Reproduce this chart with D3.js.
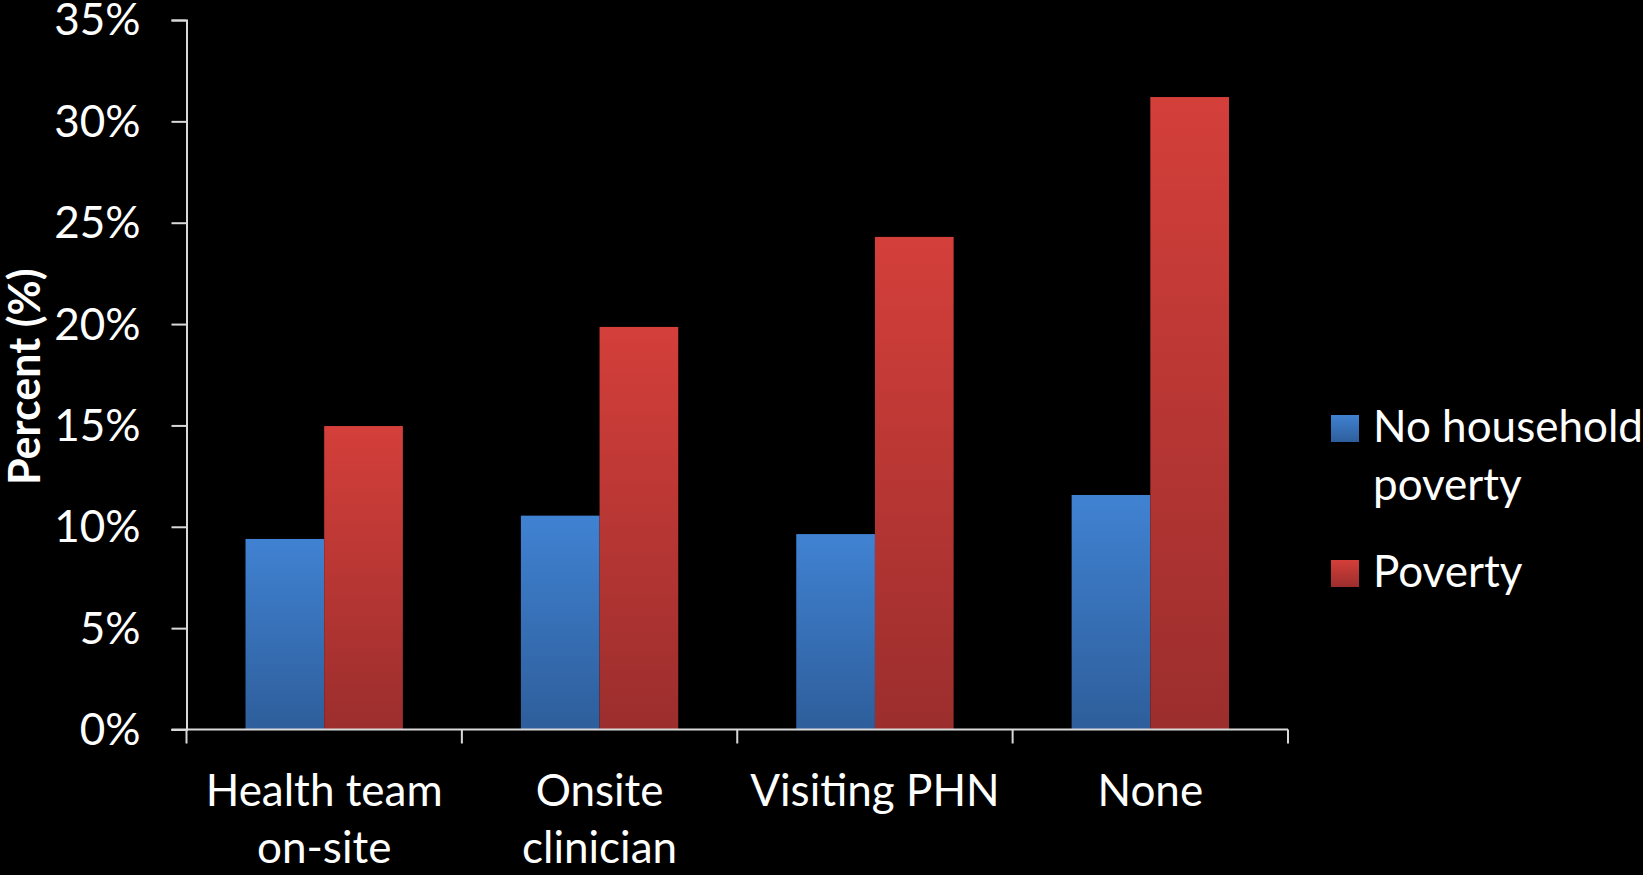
<!DOCTYPE html>
<html>
<head>
<meta charset="utf-8">
<script src="https://cdn.jsdelivr.net/npm/d3@7"></script>
<style>
  html, body { margin: 0; padding: 0; background: #000; }
  svg { display: block; }
</style>
</head>
<body>
<div id="chart"></div>
<script>
// data
const categories = [["Health team", "on-site"], ["Onsite", "clinician"], ["Visiting PHN"], ["None"]];
const seriesNames = [["No household", "poverty"], ["Poverty"]];
const noPoverty = [9.4, 10.55, 9.64, 11.57];
const poverty = [14.97, 19.86, 24.3, 31.2];
const yTicks = [0, 5, 10, 15, 20, 25, 30, 35];

const width = 1643, height = 875;
const margin = {top: 20, left: 186.5, right: 355, bottom: 145.5};
const font = "Lato, 'Open Sans', sans-serif";
const axisColor = "#d9d9d9";

const palette = [
  {top: "#4082d2", bottom: "#2e5e9b"},
  {top: "#d43f3a", bottom: "#9b2e2d"}
];

const svg = d3.select("#chart").append("svg")
  .attr("width", width)
  .attr("height", height)
  .style("background", "#000");

const defs = svg.append("defs");
palette.forEach((p, i) => {
  const g = defs.append("linearGradient")
    .attr("id", "grad" + i)
    .attr("x1", 0).attr("y1", 0).attr("x2", 0).attr("y2", 1);
  g.append("stop").attr("offset", "0%").attr("stop-color", p.top);
  g.append("stop").attr("offset", "100%").attr("stop-color", p.bottom);
});

const keys = categories.map(c => c.join(" "));
const data = keys.map((k, i) => ({key: k, values: [noPoverty[i], poverty[i]]}));

const x0 = d3.scaleBand()
  .domain(keys)
  .range([margin.left, width - margin.right])
  .paddingInner(0).paddingOuter(0);

const x1 = d3.scaleBand()
  .domain([0, 1])
  .range([0, x0.bandwidth()])
  .paddingInner(0).paddingOuter(0.75);

const y = d3.scaleLinear()
  .domain([0, 35])
  .range([height - margin.bottom, margin.top]);

// bars
const groups = svg.append("g").selectAll("g")
  .data(data).enter()
  .append("g")
  .attr("transform", d => "translate(" + x0(d.key) + ",0)");

groups.selectAll("rect")
  .data(d => d.values)
  .enter().append("rect")
  .attr("x", (d, i) => x1(i))
  .attr("y", d => y(d))
  .attr("width", x1.bandwidth())
  .attr("height", d => y(0) - y(d))
  .attr("fill", (d, i) => "url(#grad" + i + ")");

// y axis
const yAxis = svg.append("g")
  .attr("transform", "translate(" + margin.left + ",0)")
  .call(d3.axisLeft(y).tickValues(yTicks).tickSize(15).tickPadding(31)
    .tickFormat(d => d + "%"));
yAxis.select(".domain").attr("stroke", axisColor).attr("stroke-width", 2);
yAxis.selectAll(".tick line").attr("stroke", axisColor).attr("stroke-width", 2);
yAxis.selectAll("text")
  .attr("fill", "#fff")
  .attr("font-family", font)
  .attr("font-size", 44)
  .attr("dy", "0.34em");

// x axis line and boundary ticks
const xAxis = svg.append("g");
xAxis.append("line")
  .attr("x1", margin.left - 15).attr("x2", x0.range()[1])
  .attr("y1", y(0)).attr("y2", y(0))
  .attr("stroke", axisColor).attr("stroke-width", 2);

const bounds = keys.map(k => x0(k)).concat([x0.range()[1]]);
xAxis.selectAll(".xtick")
  .data(bounds).enter()
  .append("line")
  .attr("x1", d => d).attr("x2", d => d)
  .attr("y1", y(0)).attr("y2", y(0) + 14)
  .attr("stroke", axisColor).attr("stroke-width", 2);

const xLabels = xAxis.selectAll(".xlabel")
  .data(categories).enter()
  .append("text")
  .attr("text-anchor", "middle")
  .attr("fill", "#fff")
  .attr("font-family", font)
  .attr("font-size", 44)
  .attr("transform", (d, i) => "translate(" + (x0(keys[i]) + x0.bandwidth() / 2) + "," + (y(0) + 76.5) + ")");

xLabels.selectAll("tspan")
  .data(d => d).enter()
  .append("tspan")
  .attr("x", 0)
  .attr("y", (d, i) => i * 57)
  .text(d => d);

// y axis title
svg.append("text")
  .attr("transform", "translate(40," + ((margin.top + y(0)) / 2 + 2) + ") rotate(-90)")
  .attr("text-anchor", "middle")
  .attr("fill", "#fff")
  .attr("font-family", font)
  .attr("font-weight", "bold")
  .attr("font-size", 43)
  .text("Percent (%)");

// legend
const legendRows = [415, 560];
const legend = svg.append("g").selectAll("g")
  .data(seriesNames).enter()
  .append("g")
  .attr("transform", (d, i) => "translate(1331," + legendRows[i] + ")");

legend.append("rect")
  .attr("width", 28).attr("height", 27)
  .attr("fill", (d, i) => "url(#grad" + i + ")");

legend.append("text")
  .attr("fill", "#fff")
  .attr("font-family", font)
  .attr("font-size", 44)
  .selectAll("tspan")
  .data(d => d).enter()
  .append("tspan")
  .attr("x", 42)
  .attr("y", (d, i) => 27 + i * 58)
  .text(d => d);
</script>
</body>
</html>
